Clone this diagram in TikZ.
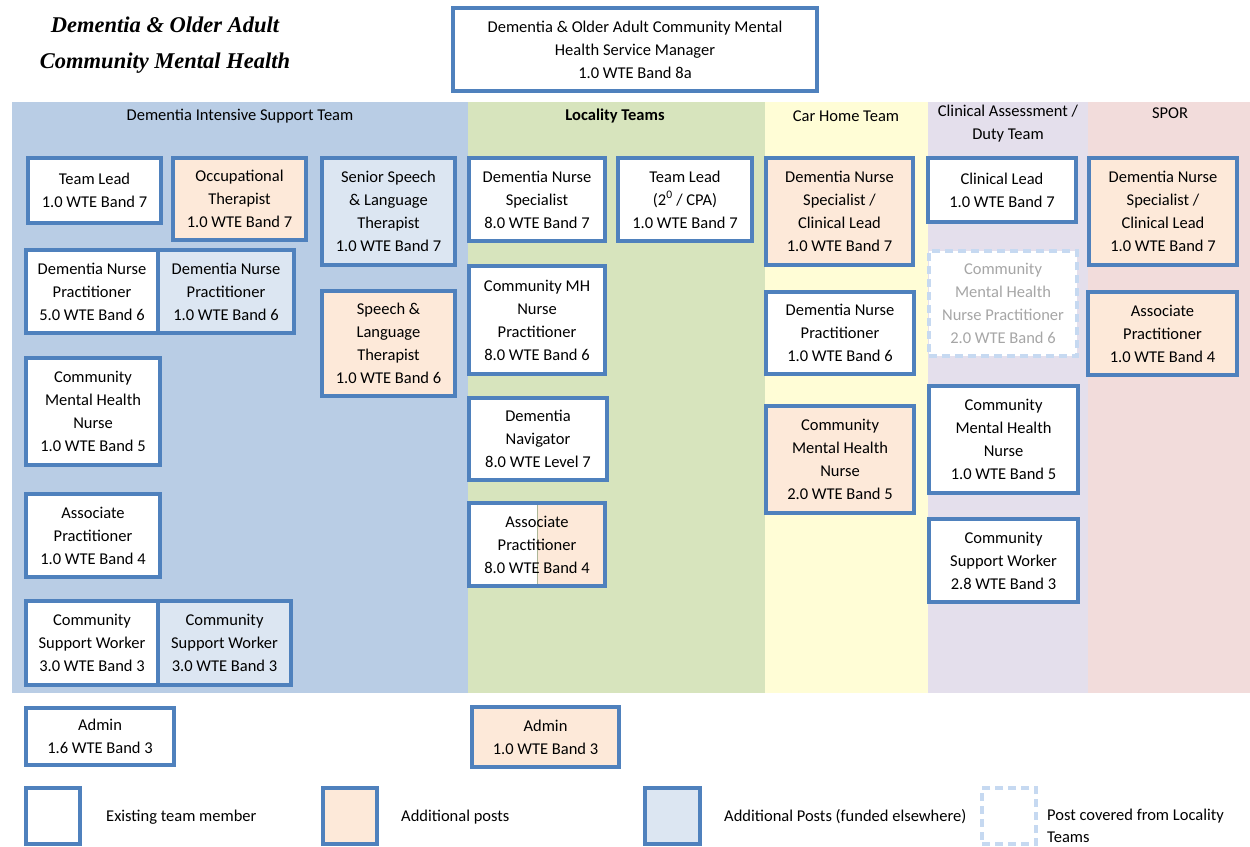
\documentclass[tikz,border=0pt]{standalone}
\usepackage{fontspec}
\setmainfont{Carlito}
\newfontfamily\titlefont{Liberation Serif}
\usepackage{tikz}
\definecolor{postline}{RGB}{79,129,189}
\definecolor{distband}{RGB}{185,205,229}
\definecolor{locband}{RGB}{215,228,189}
\definecolor{carband}{RGB}{255,253,214}
\definecolor{caband}{RGB}{228,223,236}
\definecolor{sporband}{RGB}{242,220,219}
\definecolor{peach}{RGB}{253,233,217}
\definecolor{paleblue}{RGB}{220,230,242}
\definecolor{coverline}{RGB}{198,217,241}
\tikzstyle{post} = [draw=postline, line width=3.2pt, fill=white, rectangle, align=center, inner sep=2pt, font={\fontsize{16.5}{23}\selectfont}]
\tikzstyle{extra} = [fill=peach]
\tikzstyle{funded} = [fill=paleblue]
\tikzstyle{covered} = [draw=coverline, dashed, dash pattern=on 8pt off 5pt, text=black!35]
\tikzstyle{head} = [font={\fontsize{16.5}{23}\selectfont}, align=center]
\tikzstyle{key} = [font={\fontsize{16.5}{22}\selectfont}, anchor=west, align=left, inner sep=1pt]

\begin{document}
\begin{tikzpicture}[x=1pt,y=-1pt]
    \useasboundingbox (0,0) rectangle (1250,846);
    % team bands
    \fill[distband] (12,102) rectangle (468,693);
    \fill[locband] (468,102) rectangle (765,693);
    \fill[carband] (765,102) rectangle (928,693);
    \fill[caband] (928,102) rectangle (1088,693);
    \fill[sporband] (1088,102) rectangle (1250,693);
    \node[font={\titlefont\bfseries\itshape\fontsize{22.5}{36}\selectfont}, align=center](title) at (165,45){Dementia \& Older Adult\\Community Mental Health};
    \node[post, minimum width=364pt, minimum height=83pt](mgr) at (635,49.5){Dementia \& Older Adult Community Mental\\Health Service Manager\\1.0 WTE Band 8a};
    \node[head](hdist) at (240,116){Dementia Intensive Support Team};
    \node[head, font={\fontsize{16.5}{23}\selectfont\bfseries}](hloc) at (615,116){Locality Teams};
    \node[head](hcar) at (846,116){Car Home Team};
    \node[head](hca) at (1008,124){Clinical Assessment /\\Duty Team};
    \node[head](hspor) at (1170,113){SPOR};
    % dementia intensive support team
    \node[post, minimum width=133pt, minimum height=65pt](tl) at (94.5,190.5){Team Lead\\1.0 WTE Band 7};
    \node[post, extra, minimum width=133pt, minimum height=82pt](ot) at (239.5,199){Occupational\\Therapist\\1.0 WTE Band 7};
    \node[post, funded, minimum width=133pt, minimum height=107pt](sslt) at (388.5,211.5){Senior Speech\\\& Language\\Therapist\\1.0 WTE Band 7};
    \node[post, minimum width=132pt, minimum height=83pt](dnpa) at (92,291.5){Dementia Nurse\\Practitioner\\5.0 WTE Band 6};
    \node[post, funded, minimum width=136pt, minimum height=83pt](dnpb) at (226,291.5){Dementia Nurse\\Practitioner\\1.0 WTE Band 6};
    \node[post, extra, minimum width=133pt, minimum height=105pt](slt) at (388.5,343.5){Speech \&\\Language\\Therapist\\1.0 WTE Band 6};
    \node[post, minimum width=134pt, minimum height=107pt](cmhn) at (93,411.5){Community\\Mental Health\\Nurse\\1.0 WTE Band 5};
    \node[post, minimum width=134pt, minimum height=83pt](ap) at (93,535.5){Associate\\Practitioner\\1.0 WTE Band 4};
    \node[post, minimum width=132pt, minimum height=84pt](cswa) at (92,643){Community\\Support Worker\\3.0 WTE Band 3};
    \node[post, funded, minimum width=133pt, minimum height=84pt](cswb) at (224.5,643){Community\\Support Worker\\3.0 WTE Band 3};
    \node[post, minimum width=148pt, minimum height=57pt](admina) at (100,736.5){Admin\\1.6 WTE Band 3};
    % locality teams
    \node[post, minimum width=136pt, minimum height=83pt](dns) at (537,199.5){Dementia Nurse\\Specialist\\8.0 WTE Band 7};
    \node[post, minimum width=134pt, minimum height=83pt](ltl) at (685,199.5){Team Lead\\(2\textsuperscript{0} / CPA)\\1.0 WTE Band 7};
    \node[post, minimum width=136pt, minimum height=108pt](cmhnp) at (537,320){Community MH\\Nurse\\Practitioner\\8.0 WTE Band 6};
    \node[post, minimum width=138pt, minimum height=82pt](nav) at (538,439){Dementia\\Navigator\\8.0 WTE Level 7};
    \node[post, minimum width=136pt, minimum height=83pt, path picture={\fill[peach] (path picture bounding box.north) rectangle (path picture bounding box.south east);
        \draw[locband!80!black, line width=0.6pt] (path picture bounding box.north) -- (path picture bounding box.south);}](lap) at (537,544.5){Associate\\Practitioner\\8.0 WTE Band 4};
    \node[post, extra, minimum width=147pt, minimum height=60pt](adminb) at (545.5,737){Admin\\1.0 WTE Band 3};
    % car home team
    \node[post, extra, minimum width=147pt, minimum height=107pt](chdns) at (839.5,211.5){Dementia Nurse\\Specialist /\\Clinical Lead\\1.0 WTE Band 7};
    \node[post, minimum width=148pt, minimum height=82pt](chdnp) at (840,333){Dementia Nurse\\Practitioner\\1.0 WTE Band 6};
    \node[post, extra, minimum width=148pt, minimum height=107pt](chcmhn) at (840,459.5){Community\\Mental Health\\Nurse\\2.0 WTE Band 5};
    % clinical assessment / duty team
    \node[post, minimum width=148pt, minimum height=64pt](cal) at (1002,190){Clinical Lead\\1.0 WTE Band 7};
    \node[post, covered, minimum width=148pt, minimum height=105pt](cover) at (1003,303.5){Community\\Mental Health\\Nurse Practitioner\\2.0 WTE Band 6};
    \node[post, minimum width=149pt, minimum height=107pt](cacmhn) at (1003.5,439.5){Community\\Mental Health\\Nurse\\1.0 WTE Band 5};
    \node[post, minimum width=149pt, minimum height=83pt](cacsw) at (1003.5,560.5){Community\\Support Worker\\2.8 WTE Band 3};
    % spor
    \node[post, extra, minimum width=148pt, minimum height=107pt](spdns) at (1163,211.5){Dementia Nurse\\Specialist /\\Clinical Lead\\1.0 WTE Band 7};
    \node[post, extra, minimum width=149pt, minimum height=83pt](spap) at (1162.5,333.5){Associate\\Practitioner\\1.0 WTE Band 4};
    % key
    \node[post, minimum width=54pt, minimum height=56pt](k1) at (53,816){};
    \node[key](k1t) at (105,817){Existing team member};
    \node[post, extra, minimum width=54pt, minimum height=56pt](k2) at (350,816){};
    \node[key](k2t) at (400,817){Additional posts};
    \node[post, funded, minimum width=55pt, minimum height=56pt](k3) at (672.5,816){};
    \node[key](k3t) at (723,817){Additional Posts (funded elsewhere)};
    \node[post, covered, minimum width=54pt, minimum height=56pt](k4) at (1009,816){};
    \node[key](k4t) at (1046,826){Post covered from Locality\\Teams};
  \end{tikzpicture}
\end{document}
